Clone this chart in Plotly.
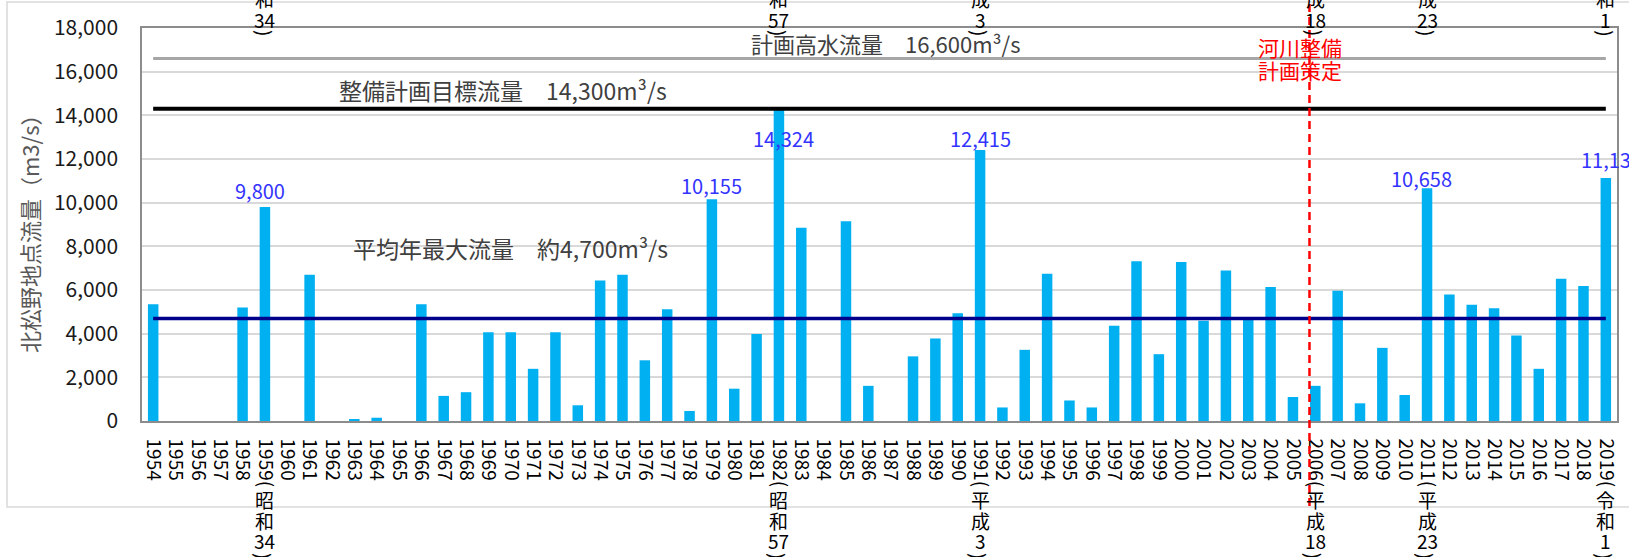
import plotly.graph_objects as go

# ---------------- data ----------------
YEARS = list(range(1954, 2020))
FLOW = [
    5350, None, None, None, 5200, 9800, None, 6700, None, 80,       # 1954-1963
    150, None, 5350, 1150, 1320, 4070, 4070, 2390, 4070, 720,        # 1964-1973
    6430, 6700, 2780, 5120, 460, 10155, 1480, 3990, 14324, 8850,     # 1974-1983
    None, 9150, 1610, None, 2960, 3780, 4930, 12415, 620, 3260,      # 1984-1993
    6750, 940, 620, 4360, 7320, 3060, 7280, 4590, 6890, 4700,        # 1994-2003
    6140, 1100, 1610, 5960, 810, 3350, 1190, 10658, 5790, 5320,      # 2004-2013
    5160, 3920, 2390, 6520, 6180, 11130,                             # 2014-2019
]
PLAN_HIGH = 16600      # 計画高水流量
PLAN_TARGET = 14300    # 整備計画目標流量
MEAN_MAX = 4700        # 平均年最大流量
LABEL_YEARS = [1959, 1979, 1982, 1991, 2011, 2019]
ERA = {1959: ("昭", "和", "34"), 1982: ("昭", "和", "57"), 1991: ("平", "成", "3"),
       2006: ("平", "成", "18"), 2011: ("平", "成", "23"), 2019: ("令", "和", "1")}
PLAN_YEAR = 2006

# ---------------- style / geometry ----------------
W, H = 1629, 557
L, R, T, B = 142, 1617, 28, 421
JP = "Noto Sans CJK JP"
# per-label offsets (xshift, yshift) in px, as placed in the original
LABEL_SHIFT = {1959: (-5, 17), 1979: (0, 14), 1982: (5, -30), 1991: (0, 11),
               2011: (-6, 10), 2019: (6, 19)}


def px(xp):
    return (xp - L) / (R - L)


def py(yp):
    return (B - yp) / (B - T)


ticktext = [f"{y}(" if y in ERA else str(y) for y in YEARS]

fig = go.Figure()
fig.add_bar(x=YEARS, y=FLOW, width=0.47, marker=dict(color="#00B0F0", line_width=0),
            hoverinfo="x+y")
fig.add_scatter(x=YEARS, y=[PLAN_HIGH] * len(YEARS), mode="lines",
                line=dict(color="#A6A6A6", width=3))
fig.add_scatter(x=YEARS, y=[PLAN_TARGET] * len(YEARS), mode="lines",
                line=dict(color="#000000", width=4))
fig.add_scatter(x=YEARS, y=[MEAN_MAX] * len(YEARS), mode="lines",
                line=dict(color="#00008B", width=3.5))

ann = []
# value labels
for yr in LABEL_YEARS:
    v = FLOW[YEARS.index(yr)]
    xs, ys = LABEL_SHIFT[yr]
    ann.append(dict(x=yr, y=v, xref="x", yref="y", text=f"{v:,}", showarrow=False,
                    xanchor="center", yanchor="middle", xshift=xs, yshift=ys,
                    font=dict(family=JP, size=20, color="#3333FF")))

# era parts of category labels (bottom, and the wrapped remnants at the top)
for yr, (c1, c2, num) in ERA.items():
    for txt, yp, ang in [(c1, 499, 0), (c2, 520, 0), (num, 540, 0), (")", 556, 90),
                         (c2, -2, 0), (num, 19, 0), (")", 33, 90)]:
        ann.append(dict(x=yr, y=py(yp), xref="x", yref="paper", text=txt, showarrow=False,
                        xanchor="center", yanchor="middle", textangle=ang,
                        font=dict(family=JP, size=19, color="#000000")))

# line captions
for txt, xc, yc, fs in [(f"計画高水流量　{PLAN_HIGH:,}m³/s", 886, 43, 22),
                        (f"整備計画目標流量　{PLAN_TARGET:,}m³/s", 503, 90, 23),
                        (f"平均年最大流量　約{MEAN_MAX:,}m³/s", 510, 248, 23)]:
    ann.append(dict(x=px(xc), y=py(yc), xref="paper", yref="paper", text=txt,
                    showarrow=False, xanchor="center", yanchor="middle",
                    font=dict(family=JP, size=fs, color="#404040")))

for txt, yc in [("河川整備", 47), ("計画策定", 70)]:
    ann.append(dict(x=px(1300), y=py(yc), xref="paper", yref="paper", text=txt,
                    showarrow=False, xanchor="center", yanchor="middle",
                    font=dict(family=JP, size=21, color="#FF0000")))

# y axis title
ann.append(dict(x=px(29), y=py(228), xref="paper", yref="paper",
                text="北松野地点流量（m3/s）", textangle=-90, showarrow=False,
                xanchor="center", yanchor="middle",
                font=dict(family=JP, size=22, color="#595959")))

shapes = [
    dict(type="rect", xref="paper", yref="paper", x0=px(7), x1=px(1660), y0=py(507), y1=py(2),
         line=dict(color="#D9D9D9", width=1.5), layer="below"),
    dict(type="line", xref="x", yref="paper", x0=PLAN_YEAR - 0.26, x1=PLAN_YEAR - 0.26,
         y0=py(506), y1=py(-5), line=dict(color="#FF0000", width=2.5, dash="8px,5px")),
]

fig.update_layout(
    width=W, height=H, margin=dict(l=L, r=W - R, t=T, b=H - B, pad=0, autoexpand=False),
    paper_bgcolor="white", plot_bgcolor="white", showlegend=False,
    bargap=0.5, annotations=ann, shapes=shapes,
    xaxis=dict(range=[YEARS[0] - 0.5, YEARS[-1] + 0.5], tickvals=YEARS, ticktext=ticktext,
               tickangle=90, showgrid=False, zeroline=False, showline=True, mirror=True,
               linecolor="#8C8C8C", linewidth=1.5, ticks="", ticklabelstandoff=12,
               automargin=False,
               tickfont=dict(family=JP, size=19, color="#000000")),
    yaxis=dict(range=[0, 18000], dtick=2000, tickformat=",", showgrid=True,
               gridcolor="#D9D9D9", gridwidth=1.5, zeroline=False, showline=True,
               mirror=True, linecolor="#8C8C8C", linewidth=1.5, ticks="",
               ticklabelstandoff=18, automargin=False,
               tickfont=dict(family=JP, size=21, color="#1A1A1A")),
)

fig.write_html("out.html", config={"displayModeBar": False},
               post_script="document.body.style.margin='0';")
